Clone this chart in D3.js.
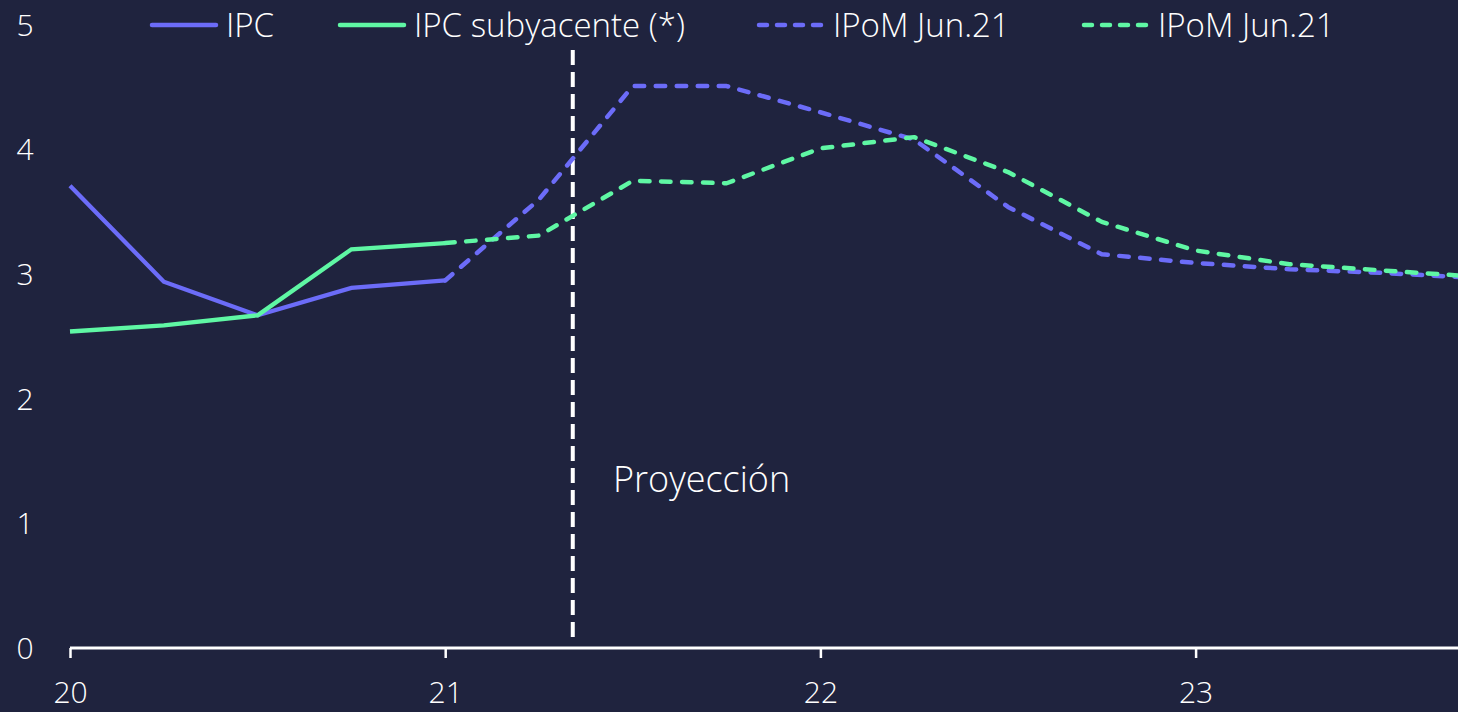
<!DOCTYPE html>
<html><head><meta charset="utf-8">
<script src="https://cdn.jsdelivr.net/npm/d3@7"></script>
<style>
html,body{margin:0;padding:0;background:#1f233e;overflow:hidden}
svg{display:block}
text{font-family:"Open Sans",sans-serif;font-weight:300;fill:#ffffff}
</style></head>
<body><svg id="c" width="1458" height="712"></svg>
<script>
// Quarterly index 0 = 2020Q1
const quarters = d3.range(16);
const ipc = [3.71, 2.94, 2.67, 2.89, 2.95];
const ipcSub = [2.54, 2.59, 2.67, 3.20, 3.25];
const ipomIpc = [null,null,null,null, 2.95, 3.60, 4.51, 4.51, 4.30, 4.08, 3.54, 3.16, 3.09, 3.04, 3.01, 2.97];
const ipomSub = [null,null,null,null, 3.25, 3.31, 3.75, 3.73, 4.01, 4.10, 3.82, 3.42, 3.19, 3.08, 3.03, 2.98];
const xTickLabels = ["20","21","22","23"];
const xTickValues = [0,4,8,12];
const yTicks = [0,1,2,3,4,5];
const projectionX = 5.36;
const legendLabels = ["IPC","IPC subyacente (*)","IPoM Jun.21","IPoM Jun.21"];

const purple = "#6c6cf8", green = "#5ff7a4";
const svg = d3.select("#c");
const x = d3.scaleLinear().domain([0,15]).range([70, 70+15*93.8]);
const y = d3.scaleLinear().domain([0,5]).range([648, 25]);

// y labels
svg.selectAll(".yl").data(yTicks).enter().append("text")
  .attr("x",25).attr("y",d=>y(d)).attr("dy","0.36em").attr("text-anchor","middle")
  .style("font-size","30px").text(d=>d);

// x axis
const xAxis = d3.axisBottom(x).tickValues(xTickValues).tickFormat((d,i)=>xTickLabels[i]).tickSize(10).tickPadding(24).tickSizeOuter(0);
const gx = svg.append("g").attr("transform","translate(0,648)").call(xAxis);
gx.select(".domain").attr("stroke","#fff").attr("stroke-width",3).attr("d","M70,0H1458");
gx.selectAll(".tick line").attr("stroke","#fff").attr("stroke-width",2.5);
gx.selectAll(".tick text").style("font-size","30px").attr("fill","#fff").style("font-family","'Open Sans',sans-serif").style("font-weight","300");

// projection line
svg.append("line").attr("x1",x(projectionX)).attr("x2",x(projectionX)).attr("y1",50).attr("y2",638)
  .attr("stroke","#fff").attr("stroke-width",4).attr("stroke-dasharray","15,7");
svg.append("text").attr("x",613).attr("y",492).style("font-size","36px").text("Proyección");

const solid = d3.line().x((d,i)=>x(i)).y(d=>y(d));
const dashed = d3.line().defined(d=>d!=null).x((d,i)=>x(i)).y(d=>y(d));

svg.append("path").attr("d",dashed(ipomIpc)).attr("fill","none").attr("stroke",purple).attr("stroke-width",4.5).attr("stroke-dasharray","9.5,11.5").attr("stroke-linecap","round").attr("stroke-linejoin","round");
svg.append("path").attr("d",dashed(ipomSub)).attr("fill","none").attr("stroke",green).attr("stroke-width",4.5).attr("stroke-dasharray","9.5,11.5").attr("stroke-linecap","round").attr("stroke-linejoin","round");
svg.append("path").attr("d",solid(ipc)).attr("fill","none").attr("stroke",purple).attr("stroke-width",4.3);
svg.append("path").attr("d",solid(ipcSub)).attr("fill","none").attr("stroke",green).attr("stroke-width",4.3);

// legend
const leg = [
  {x:150, c:purple, dash:null},
  {x:338, c:green, dash:null},
  {x:757, c:purple, dash:"8,10"},
  {x:1082, c:green, dash:"8,10"}
];
leg.forEach((l,i)=>{
  svg.append("line").attr("x1",l.x+2).attr("x2",l.x+66).attr("y1",25).attr("y2",25)
    .attr("stroke",l.c).attr("stroke-width",4.5).attr("stroke-linecap","round")
    .attr("stroke-dasharray",l.dash);
  svg.append("text").attr("x",l.x+76).attr("y",25).attr("dy","0.36em").style("font-size","33px").text(legendLabels[i]);
});
</script></body></html>
